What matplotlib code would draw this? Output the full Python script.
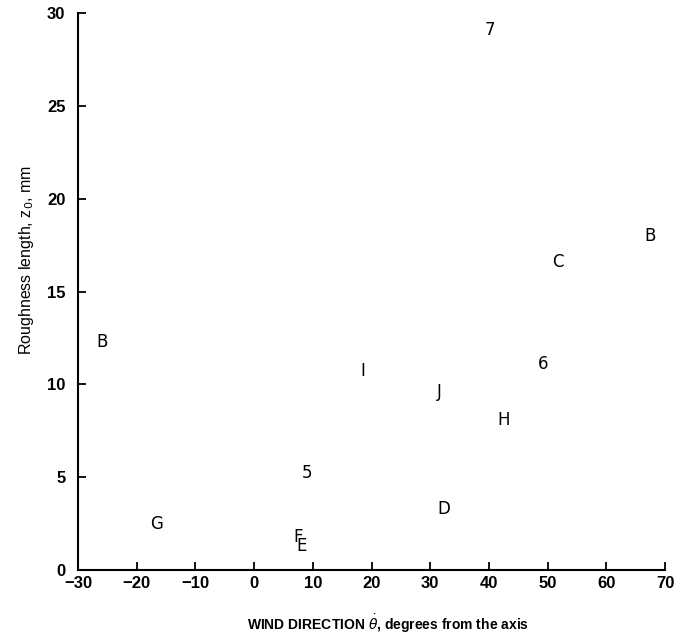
import matplotlib
matplotlib.use("Agg")
import matplotlib.pyplot as plt
from matplotlib import font_manager

# Roughness length versus wind direction, each run plotted by its identifier
run_ids = ["7", "B", "C", "B", "I", "6", "J", "H", "5", "D", "G", "F", "E"]
wind_dir = [40.2, 67.5, 51.7, -25.9, 18.5, 49.3, 31.5, 42.5, 9.0, 32.4, -16.6, 7.5, 8.1]
z0_mm = [29.1, 18.0, 16.6, 12.3, 10.7, 11.1, 9.6, 8.1, 5.2, 3.3, 2.5, 1.8, 1.3]

x_ticks = [-30, -20, -10, 0, 10, 20, 30, 40, 50, 60, 70]
y_ticks = [0, 5, 10, 15, 20, 25, 30]

plt.rcParams["font.family"] = ["Liberation Sans", "DejaVu Sans"]

installed = {f.name for f in font_manager.fontManager.ttflist}
narrow = "Liberation Sans Narrow" if "Liberation Sans Narrow" in installed else "Liberation Sans"

fig = plt.figure(figsize=(6.8, 6.43), dpi=100)
ax = fig.add_axes([0.1147, 0.1135, 0.8633, 0.8663])

for lab, xv, yv in zip(run_ids, wind_dir, z0_mm):
    ax.text(xv, yv, lab, ha="center", va="center", fontsize=12,
            family="DejaVu Sans", color="black")

ax.set_xlim(-30, 70)
ax.set_ylim(0, 30)
ax.set_xticks(x_ticks)
ax.set_yticks(y_ticks)
ax.set_xticklabels([str(t).replace("-", "\u2212") for t in x_ticks],
                   fontsize=12, fontweight="bold")
ax.set_yticklabels([str(t) for t in y_ticks], fontsize=12, fontweight="bold")

ax.tick_params(axis="x", direction="in", length=6, width=1.3, pad=4)
ax.tick_params(axis="y", direction="in", length=6, width=1.3, pad=9)

for side in ("top", "right"):
    ax.spines[side].set_visible(False)
for side in ("left", "bottom"):
    ax.spines[side].set_linewidth(1.5)

ax.set_xlabel(r"WIND DIRECTION $\dot{\theta}$, degrees from the axis",
              fontsize=10, fontweight="bold", labelpad=16)
ax.xaxis.label.set_x(0.528)
ax.set_ylabel(r"Roughness length, z$_0$, mm", fontsize=12 if narrow != "Liberation Sans" else 11.5,
              family=narrow, labelpad=8)
ax.yaxis.label.set_y(0.557)

fig.savefig("out.png", dpi=100)
